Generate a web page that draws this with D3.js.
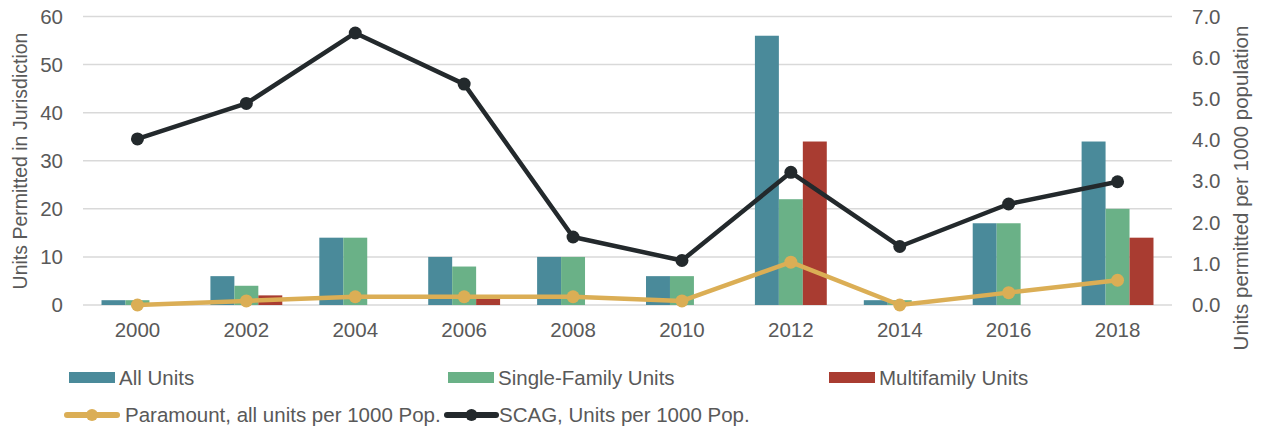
<!DOCTYPE html>
<html>
<head>
<meta charset="utf-8">
<script src="https://cdn.jsdelivr.net/npm/d3@7"></script>
<style>
  body { margin: 0; background: #fff; }
  text { font-family: "Liberation Sans", Arial, sans-serif; fill: #595959; }
</style>
</head>
<body>
<div id="chart"></div>
<script>
const years = ['2000', '2002', '2004', '2006', '2008', '2010', '2012', '2014', '2016', '2018']
const allUnits = [1, 6, 14, 10, 10, 6, 56, 1, 17, 34]
const singleFamily = [1, 4, 14, 8, 10, 6, 22, 1, 17, 20]
const multifamily = [0, 2, 0, 2, 0, 0, 34, 0, 0, 14]
const paramountRate = [0.0, 0.1, 0.2, 0.2, 0.2, 0.1, 1.04, 0.0, 0.3, 0.6]
const scagRate = [4.03, 4.89, 6.6, 5.36, 1.65, 1.08, 3.22, 1.42, 2.45, 2.99]
const leftTicks = [0, 10, 20, 30, 40, 50, 60]
const rightTicks = [0, 1, 2, 3, 4, 5, 6, 7]

const barSeries = [
  { name: 'All Units', values: allUnits, color: '#4a8a9a' },
  { name: 'Single-Family Units', values: singleFamily, color: '#6ab187' },
  { name: 'Multifamily Units', values: multifamily, color: '#a93c31' }
]
const lineSeries = [
  { name: 'Paramount, all units per 1000 Pop.', values: paramountRate, color: '#dbae55' },
  { name: 'SCAG, Units per 1000 Pop.', values: scagRate, color: '#23292c' }
]

let W = 1262, H = 430
let plotL = 83, plotR = 1172, plotT = 16.5, plotB = 305

let svg = d3.select('#chart').append('svg')
  .attr('width', W).attr('height', H)

let x = d3.scaleBand().domain(years).range([plotL, plotR]).padding(0)
let groupW = x.bandwidth() * 0.66
let xs = d3.scaleBand().domain(barSeries.map(s => s.name)).range([0, groupW])
let yL = d3.scaleLinear().domain([0, 60]).range([plotB, plotT])
let yR = d3.scaleLinear().domain([0, 7]).range([plotB, plotT])

// gridlines
svg.append('g')
  .selectAll('line').data(leftTicks).join('line')
  .attr('x1', plotL).attr('x2', plotR)
  .attr('y1', d => yL(d)).attr('y2', d => yL(d))
  .attr('stroke', '#d9d9d9').attr('stroke-width', 1.5)

// left axis
let axL = svg.append('g').attr('transform', `translate(${plotL},0)`)
  .call(d3.axisLeft(yL).tickValues(leftTicks).tickSize(0).tickPadding(20))
axL.select('.domain').remove()
axL.selectAll('text').style('font-size', '20.5px').attr('fill', '#595959')

// right axis
let axR = svg.append('g').attr('transform', `translate(${plotR},0)`)
  .call(d3.axisRight(yR).tickValues(rightTicks).tickSize(0).tickPadding(20).tickFormat(d3.format('.1f')))
axR.select('.domain').remove()
axR.selectAll('text').style('font-size', '20.5px').attr('fill', '#595959')

// x axis
let axX = svg.append('g').attr('transform', `translate(0,${plotB})`)
  .call(d3.axisBottom(x).tickSize(0).tickPadding(17))
axX.select('.domain').remove()
axX.selectAll('text').style('font-size', '20.5px').attr('fill', '#595959')

// axis titles
svg.append('text')
  .attr('transform', `translate(27,161) rotate(-90)`)
  .attr('text-anchor', 'middle')
  .style('font-size', '19.5px')
  .text('Units Permitted in Jurisdiction')
svg.append('text')
  .attr('transform', `translate(1248,188) rotate(-90)`)
  .attr('text-anchor', 'middle')
  .style('font-size', '20.5px')
  .text('Units permitted per 1000 population')

// bars
barSeries.forEach(s => {
  svg.append('g').selectAll('rect').data(s.values).join('rect')
    .attr('x', (d, i) => x(years[i]) + (x.bandwidth() - groupW) / 2 + xs(s.name))
    .attr('width', xs.bandwidth())
    .attr('y', d => yL(d))
    .attr('height', d => yL(0) - yL(d))
    .attr('fill', s.color)
})

// lines
let cx = i => x(years[i]) + x.bandwidth() / 2
lineSeries.forEach(s => {
  let line = d3.line().x((d, i) => cx(i)).y(d => yR(d))
  svg.append('path')
    .attr('d', line(s.values))
    .attr('fill', 'none')
    .attr('stroke', s.color)
    .attr('stroke-width', 4.5)
    .attr('stroke-linejoin', 'round')
  svg.append('g').selectAll('circle').data(s.values).join('circle')
    .attr('cx', (d, i) => cx(i)).attr('cy', d => yR(d))
    .attr('r', 6.5).attr('fill', s.color)
})

// legend
let barLegX = [69, 448, 829]
barSeries.forEach((s, i) => {
  let g = svg.append('g').attr('transform', `translate(${barLegX[i]},372)`)
  g.append('rect').attr('width', 46).attr('height', 11).attr('fill', s.color)
  g.append('text').attr('x', 50).attr('y', 12.5).style('font-size', '20.5px').text(s.name)
})
let lineLeg = [{ x1: 67, x2: 117, tx: 125 }, { x1: 447, x2: 496, tx: 499 }]
lineSeries.forEach((s, i) => {
  let p = lineLeg[i]
  let g = svg.append('g')
  g.append('line').attr('x1', p.x1).attr('x2', p.x2).attr('y1', 415).attr('y2', 415)
    .attr('stroke', s.color).attr('stroke-width', 6).attr('stroke-linecap', 'round')
  g.append('circle').attr('cx', (p.x1 + p.x2) / 2).attr('cy', 415).attr('r', 6).attr('fill', s.color)
  g.append('text').attr('x', p.tx).attr('y', 422).style('font-size', '20.5px').text(s.name)
})
</script>
</body>
</html>
